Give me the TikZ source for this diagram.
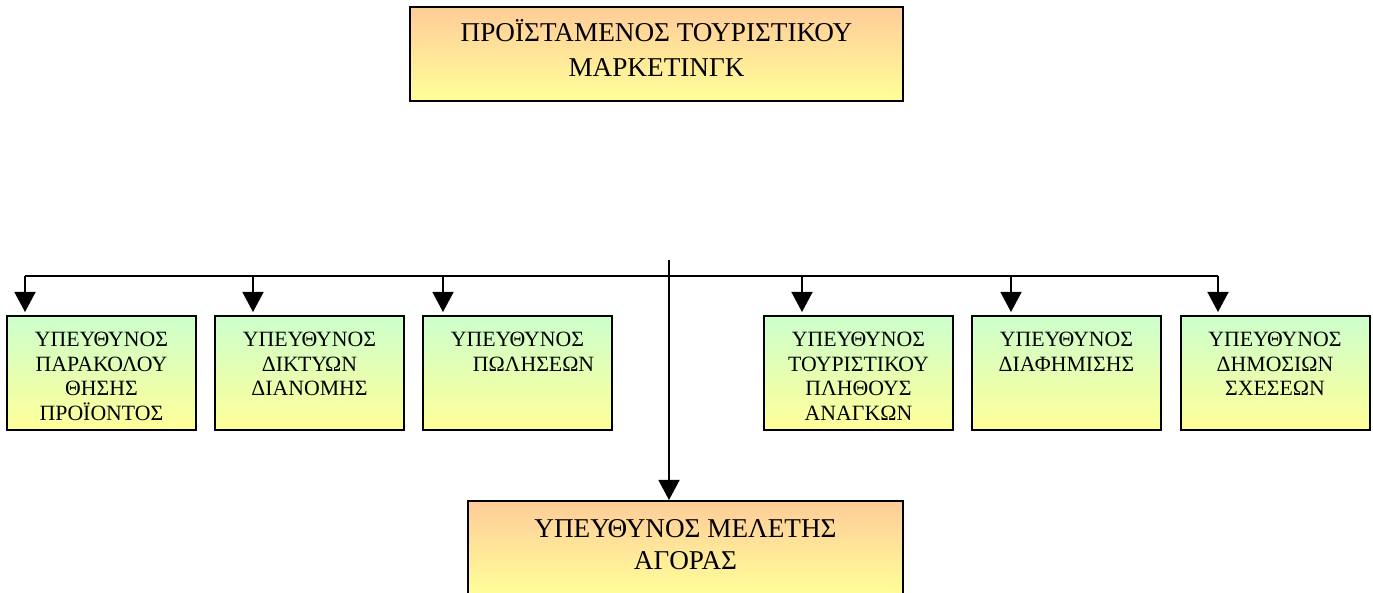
\documentclass[tikz,border=0pt]{standalone}
\usepackage{fontspec}
\setmainfont{Liberation Serif}
\usetikzlibrary{positioning,arrows.meta}
\definecolor{boxPeach}{HTML}{FFCC99}
\definecolor{boxMint}{HTML}{CCFFCC}
\definecolor{boxLemon}{HTML}{FFFF99}

\begin{document}
\begin{tikzpicture}[x=0.5pt, y=-0.5pt,
          tbox/.style n args={3}{execute at begin node={\begin{minipage}[c][#2][t]{#1}\centering\vspace*{#3}},
                    execute at end node={\end{minipage}}},
          head/.style={draw, line width=1pt, inner sep=0pt, top color=boxPeach, bottom color=boxLemon,
                    font=\fontsize{13.6}{17.5}\selectfont},
          unit/.style={draw, line width=1pt, inner sep=0pt, top color=boxMint, bottom color=boxLemon,
                    font=\fontsize{10.9}{12.3}\selectfont, tbox={94.5pt}{57pt}{8pt}},
          link/.style={line width=0.75pt},
          arr/.style={link, -{Triangle[width=10.5pt,length=10pt]}}]
        \useasboundingbox (0,0) rectangle (1373,593);
        \clip (0,0) rectangle (1373,593);
        \node[head, tbox={246.5pt}{47pt}{6.2pt}] (chief) at (656.5,54) {ΠΡΟΪΣΤΑΜΕΝΟΣ ΤΟΥΡΙΣΤΙΚΟΥ\\ΜΑΡΚΕΤΙΝΓΚ};
        \node[unit] (b1) at (101.5,373)  {ΥΠΕΥΘΥΝΟΣ\\ΠΑΡΑΚΟΛΟΥ\\ΘΗΣΗΣ\\ΠΡΟΪΟΝΤΟΣ};
        \node[unit] (b2) at (309.5,373)  {ΥΠΕΥΘΥΝΟΣ\\ΔΙΚΤΥΩΝ\\ΔΙΑΝΟΜΗΣ};
        \node[unit] (b3) at (517.5,373)  {ΥΠΕΥΘΥΝΟΣ\\\hspace*{16pt}ΠΩΛΗΣΕΩΝ};
        \node[unit] (b4) at (858.5,373)  {ΥΠΕΥΘΥΝΟΣ\\ΤΟΥΡΙΣΤΙΚΟΥ\\ΠΛΗΘΟΥΣ\\ΑΝΑΓΚΩΝ};
        \node[unit] (b5) at (1066.5,373) {ΥΠΕΥΘΥΝΟΣ\\ΔΙΑΦΗΜΙΣΗΣ};
        \node[unit] (b6) at (1275,373)   {ΥΠΕΥΘΥΝΟΣ\\ΔΗΜΟΣΙΩΝ\\ΣΧΕΣΕΩΝ};
        \node[head, tbox={217.5pt}{47pt}{9pt}, font=\fontsize{13.6}{16}\selectfont] (study) at (685.5,548) {ΥΠΕΥΘΥΝΟΣ ΜΕΛΕΤΗΣ\\ΑΓΟΡΑΣ};
        % bus and drops
        \foreach \i/\x in {1/25,2/253,3/443,4/802,5/1011,6/1218} {
          \coordinate (d\i) at (\x,276);
          \draw[arr, shorten >=1.5pt] (d\i) -- (d\i |- b\i.north);
        }
        \draw[link] (d1) -- (d6);
        \coordinate (stem) at (669,260);
        \draw[arr] (stem) -- (stem |- study.north);
      \end{tikzpicture}
\end{document}
